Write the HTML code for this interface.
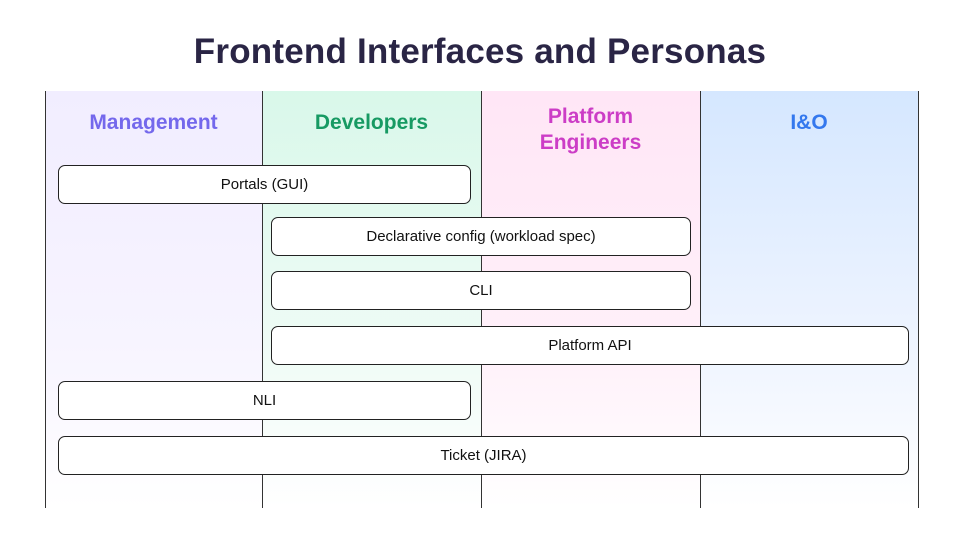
<!DOCTYPE html>
<html><head><style>
body{margin:0;width:960px;height:540px;background:#fff;position:relative;overflow:hidden;font-family:"Liberation Sans",sans-serif}
.t{position:absolute;left:0;width:960px;top:32px;text-align:center;font-size:35px;font-weight:bold;color:#2a2545;letter-spacing:0.2px}
.col{position:absolute;top:91px;height:417px}
.ln{position:absolute;top:91px;height:417px;width:1px;background:#333}
.h{position:absolute;text-align:center;font-weight:bold;font-size:21px;line-height:26px}
.b{position:absolute;height:37px;border:1.3px solid #222;border-radius:7px;background:#fff;text-align:center;line-height:38px;font-size:15px;color:#111;box-sizing:content-box}
</style></head><body>
<div class="t">Frontend Interfaces and Personas</div>
<div class="col" style="left:45px;width:217px;background:linear-gradient(#f1edff,#f7f4ff 60%,#fff)"></div>
<div class="col" style="left:262px;width:219px;background:linear-gradient(#d9f8ea,#eefbf5 60%,#fff)"></div>
<div class="col" style="left:481px;width:219px;background:linear-gradient(#ffe6f6,#fff0f9 60%,#fff)"></div>
<div class="col" style="left:700px;width:218px;background:linear-gradient(#d5e7ff,#eef4ff 60%,#fff)"></div>
<div class="ln" style="left:45px"></div><div class="ln" style="left:262px"></div><div class="ln" style="left:481px"></div><div class="ln" style="left:700px"></div><div class="ln" style="left:918px"></div>
<div class="h" style="left:45px;width:217px;top:110px;color:#7468ec">Management</div>
<div class="h" style="left:262px;width:219px;top:110px;color:#179a63">Developers</div>
<div class="h" style="left:481px;width:219px;top:104px;color:#cc3dc6">Platform<br>Engineers</div>
<div class="h" style="left:700px;width:218px;top:110px;color:#3478ee">I&amp;O</div>
<div class="b" style="left:58px;top:165px;width:411px">Portals (GUI)</div>
<div class="b" style="left:271px;top:217px;width:418px">Declarative config (workload spec)</div>
<div class="b" style="left:271px;top:271px;width:418px">CLI</div>
<div class="b" style="left:271px;top:326px;width:636px">Platform API</div>
<div class="b" style="left:58px;top:381px;width:411px">NLI</div>
<div class="b" style="left:58px;top:436px;width:849px">Ticket (JIRA)</div>
</body></html>
